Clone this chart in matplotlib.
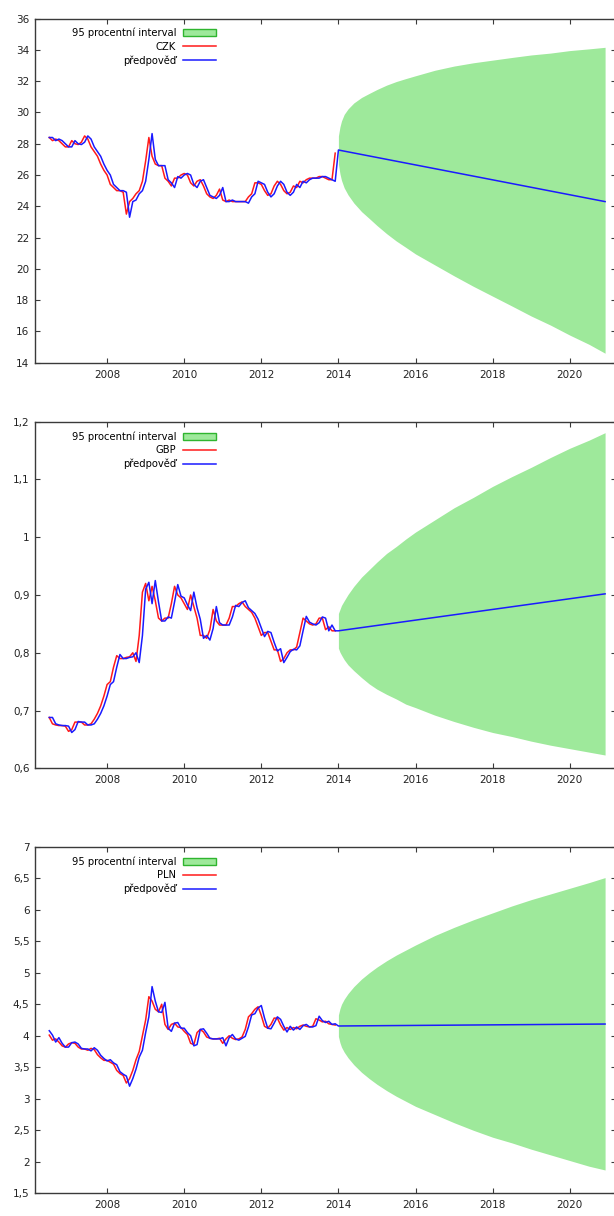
import numpy as np
import matplotlib
matplotlib.use("Agg")
import matplotlib.pyplot as plt
from matplotlib.patches import Patch
from matplotlib.lines import Line2D
from matplotlib.ticker import FuncFormatter, MultipleLocator

# ---------------------------------------------------------------------------
# Monthly exchange rates (EUR/xxx), Jul 2006 - Dec 2013
# ---------------------------------------------------------------------------
hist_start = 2006 + 6 / 12          # July 2006
n_hist = 90
hist_t = hist_start + np.arange(n_hist) / 12

czk_actual = [28.4, 28.2, 28.3, 28.2, 28.0, 27.8, 27.8, 28.2, 28.0, 27.95, 28.1, 28.5,
              28.3, 27.8, 27.5, 27.2, 26.7, 26.3,
              26.0, 25.4, 25.2, 25.0, 25.0, 24.9, 23.5, 24.3, 24.5, 24.8, 25.0, 25.6,
              26.9, 28.4, 27.2, 26.7, 26.6, 26.6, 25.8, 25.6, 25.3, 25.8, 25.8, 26.0,
              26.1, 26.0, 25.5, 25.3, 25.6, 25.7, 25.3, 24.8, 24.6, 24.5, 24.7, 25.1,
              24.4, 24.3, 24.4, 24.3, 24.3, 24.3, 24.3, 24.3, 24.6, 24.8, 25.5, 25.5,
              25.4, 25.0, 24.7, 24.8, 25.3, 25.6, 25.4, 25.0, 24.8, 24.9, 25.3, 25.2,
              25.6, 25.5, 25.7, 25.8, 25.8, 25.8, 25.9, 25.9, 25.8, 25.7, 25.7, 27.4]
czk_fitted = [28.4, 28.4, 28.2, 28.3, 28.2, 28.0, 27.8, 27.8, 28.2, 28.0, 27.95, 28.1,
              28.5, 28.3, 27.8, 27.5, 27.2, 26.7,
              26.3, 26.0, 25.4, 25.2, 25.0, 25.0, 24.9, 23.3, 24.3, 24.4, 24.8, 25.0,
              25.6, 27.0, 28.65, 27.0, 26.6, 26.6, 26.6, 25.7, 25.5, 25.2, 25.9, 25.8,
              26.0, 26.1, 26.0, 25.4, 25.2, 25.6, 25.7, 25.2, 24.7, 24.6, 24.5, 24.7,
              25.2, 24.3, 24.3, 24.4, 24.3, 24.3, 24.3, 24.3, 24.2, 24.6, 24.8, 25.6,
              25.5, 25.4, 24.9, 24.6, 24.8, 25.3, 25.6, 25.4, 24.9, 24.7, 24.9, 25.4,
              25.2, 25.6, 25.5, 25.7, 25.8, 25.8, 25.8, 25.9, 25.9, 25.8, 25.7, 25.6]

gbp_actual = [0.688, 0.677, 0.675, 0.674, 0.674, 0.673, 0.664, 0.667, 0.680, 0.680, 0.680, 0.675,
              0.675, 0.677, 0.685, 0.695, 0.708, 0.725,
              0.745, 0.750, 0.775, 0.795, 0.790, 0.790, 0.792, 0.793, 0.800, 0.785, 0.830, 0.905,
              0.920, 0.890, 0.915, 0.890, 0.860, 0.855, 0.860, 0.860, 0.885, 0.915, 0.900, 0.895,
              0.885, 0.875, 0.900, 0.880, 0.860, 0.830, 0.830, 0.825, 0.840, 0.875, 0.855, 0.848,
              0.848, 0.848, 0.860, 0.880, 0.880, 0.885, 0.888, 0.880, 0.875, 0.870, 0.860, 0.845,
              0.830, 0.835, 0.835, 0.820, 0.805, 0.805, 0.785, 0.790, 0.800, 0.805, 0.805, 0.810,
              0.835, 0.860, 0.855, 0.850, 0.848, 0.850, 0.860, 0.860, 0.840, 0.845, 0.838, 0.838]
gbp_fitted = [0.688, 0.688, 0.677, 0.675, 0.674, 0.674, 0.673, 0.662, 0.667, 0.681, 0.680, 0.680,
              0.675, 0.675, 0.677, 0.685, 0.695, 0.708,
              0.725, 0.745, 0.750, 0.775, 0.797, 0.790, 0.790, 0.792, 0.793, 0.800, 0.783, 0.830,
              0.910, 0.922, 0.885, 0.925, 0.888, 0.855, 0.855, 0.862, 0.860, 0.888, 0.918, 0.898,
              0.895, 0.883, 0.873, 0.905, 0.878, 0.858, 0.825, 0.830, 0.822, 0.842, 0.880, 0.852,
              0.848, 0.848, 0.848, 0.862, 0.882, 0.880, 0.887, 0.890, 0.878, 0.873, 0.868, 0.858,
              0.843, 0.828, 0.837, 0.835, 0.818, 0.803, 0.807, 0.783, 0.792, 0.802, 0.806, 0.805,
              0.812, 0.838, 0.863, 0.853, 0.850, 0.848, 0.852, 0.862, 0.860, 0.838, 0.848, 0.838]

pln_actual = [4.01, 3.93, 3.95, 3.90, 3.84, 3.82, 3.87, 3.89, 3.88, 3.82, 3.79, 3.79,
              3.77, 3.80, 3.78, 3.70, 3.65, 3.61,
              3.61, 3.58, 3.55, 3.45, 3.40, 3.37, 3.25, 3.32, 3.45, 3.62, 3.75, 4.00,
              4.25, 4.62, 4.55, 4.42, 4.38, 4.50, 4.18, 4.10, 4.18, 4.20, 4.14, 4.13,
              4.07, 4.02, 3.88, 3.86, 4.05, 4.10, 4.06, 3.98, 3.96, 3.95, 3.95, 3.96,
              3.88, 3.95, 4.00, 3.96, 3.94, 3.95, 3.98, 4.10, 4.30, 4.35, 4.42, 4.46,
              4.32, 4.15, 4.12, 4.18, 4.28, 4.28, 4.17, 4.09, 4.13, 4.10, 4.13, 4.11,
              4.15, 4.17, 4.15, 4.14, 4.15, 4.27, 4.25, 4.22, 4.23, 4.19, 4.18, 4.17]
pln_fitted = [4.08, 4.01, 3.90, 3.97, 3.88, 3.82, 3.82, 3.89, 3.90, 3.87, 3.80, 3.79,
              3.79, 3.76, 3.81, 3.77, 3.69, 3.64,
              3.60, 3.62, 3.57, 3.54, 3.43, 3.39, 3.36, 3.20, 3.32, 3.47, 3.66, 3.77,
              4.05, 4.30, 4.78, 4.55, 4.38, 4.37, 4.53, 4.12, 4.07, 4.20, 4.21, 4.12,
              4.12, 4.05, 4.00, 3.84, 3.86, 4.10, 4.11, 4.04, 3.96, 3.95, 3.95, 3.95,
              3.97, 3.84, 3.97, 4.02, 3.95, 3.93, 3.96, 3.99, 4.14, 4.33, 4.35, 4.44,
              4.48, 4.28, 4.12, 4.11, 4.20, 4.30, 4.26, 4.15, 4.06, 4.15, 4.09, 4.14,
              4.10, 4.16, 4.18, 4.14, 4.14, 4.16, 4.31, 4.24, 4.21, 4.23, 4.18, 4.19]

# ---------------------------------------------------------------------------
# Out-of-sample forecast Jan 2014 - Dec 2020 (start and end of the trend line)
# ---------------------------------------------------------------------------
fc_t = [2014.0, 2020.917]
czk_fc = [27.6, 24.3]
gbp_fc = [0.838, 0.902]
pln_fc = [4.155, 4.186]

# 95 % interval bounds, sampled along the forecast horizon
band_t = [2014.0, 2014.04, 2014.08, 2014.15, 2014.25, 2014.4, 2014.6, 2014.8,
          2015.0, 2015.25, 2015.5, 2015.75, 2016.0, 2016.5, 2017.0, 2017.5,
          2018.0, 2018.5, 2019.0, 2019.5, 2020.0, 2020.5, 2020.917]

czk_upper = [28.50, 29.08, 29.46, 29.88, 30.23, 30.61, 30.96, 31.22,
             31.47, 31.75, 31.98, 32.17, 32.35, 32.70, 32.97, 33.18,
             33.35, 33.52, 33.68, 33.80, 33.96, 34.07, 34.17]
czk_lower = [26.70, 26.08, 25.66, 25.18, 24.73, 24.21, 23.66, 23.22,
             22.77, 22.25, 21.78, 21.37, 20.95, 20.25, 19.55, 18.88,
             18.25, 17.62, 16.98, 16.40, 15.76, 15.17, 14.60]

gbp_upper = [0.868, 0.875, 0.882, 0.890, 0.901, 0.915, 0.931, 0.944,
             0.957, 0.972, 0.984, 0.997, 1.009, 1.030, 1.051, 1.069,
             1.088, 1.105, 1.121, 1.138, 1.154, 1.168, 1.181]
gbp_lower = [0.808, 0.801, 0.796, 0.788, 0.779, 0.769, 0.757, 0.746,
             0.737, 0.728, 0.720, 0.711, 0.705, 0.692, 0.681, 0.671,
             0.662, 0.655, 0.647, 0.640, 0.634, 0.628, 0.623]

pln_upper = [4.33, 4.43, 4.50, 4.58, 4.67, 4.78, 4.90, 5.00,
             5.09, 5.19, 5.28, 5.36, 5.44, 5.59, 5.72, 5.84,
             5.95, 6.06, 6.16, 6.25, 6.34, 6.43, 6.51]
pln_lower = [3.99, 3.89, 3.82, 3.74, 3.65, 3.54, 3.42, 3.32,
             3.23, 3.13, 3.04, 2.96, 2.88, 2.75, 2.62, 2.50,
             2.39, 2.30, 2.20, 2.11, 2.02, 1.93, 1.87]

# Axis settings per currency
currencies = ["CZK", "GBP", "PLN"]
y_limits = [(14, 36), (0.6, 1.2), (1.5, 7)]
y_steps = [2, 0.1, 0.5]
x_limits = (2006.13, 2021.2)
x_ticks = [2008, 2010, 2012, 2014, 2016, 2018, 2020]

interval_label = "95 procentní interval"
forecast_label = "předpověď"

panels = [
    (czk_actual, czk_fitted, czk_fc, czk_upper, czk_lower),
    (gbp_actual, gbp_fitted, gbp_fc, gbp_upper, gbp_lower),
    (pln_actual, pln_fitted, pln_fc, pln_upper, pln_lower),
]

# ---------------------------------------------------------------------------
W, H = 614, 1216
fig = plt.figure(figsize=(W / 100, H / 100), dpi=100)
fig.patch.set_facecolor("white")

# axes boxes in pixels: (left, top, right, bottom)
boxes = [(35, 18.7, 616, 362.6), (35, 421.7, 616, 768.3), (35, 846.7, 616, 1193.3)]

green = "#9ee99b"
green_edge = "#2fb52f"
red = "#ff1a1a"
blue = "#1a1aff"
spine_col = "#3a3a3a"
text_col = "#222222"


def comma_fmt(v, _pos):
    return f"{round(v, 3):g}".replace(".", ",")


for (actual, fitted, fc, upper, lower), cur, ylim, ystep, box in zip(
        panels, currencies, y_limits, y_steps, boxes):
    l, t, r, b = box
    ax = fig.add_axes([l / W, 1 - b / H, (r - l) / W, (b - t) / H])

    ax.fill_between(band_t, lower, upper, color=green, linewidth=0, zorder=1)
    ax.plot(hist_t, actual, color=red, lw=1.1, zorder=2)
    blue_t = np.concatenate([hist_t, fc_t])
    blue_v = np.concatenate([fitted, fc])
    ax.plot(blue_t, blue_v, color=blue, lw=1.1, zorder=3)

    ax.set_xlim(*x_limits)
    ax.set_ylim(*ylim)
    ax.set_xticks(x_ticks)
    ax.yaxis.set_major_locator(MultipleLocator(ystep))
    ax.yaxis.set_major_formatter(FuncFormatter(comma_fmt))
    ax.tick_params(direction="in", length=3.5, width=0.8, top=True, right=True,
                   labelsize=7.5, colors=spine_col, labelcolor=text_col)
    ax.tick_params(axis="y", pad=4)
    ax.tick_params(axis="x", pad=5)
    for s in ax.spines.values():
        s.set_color(spine_col)
        s.set_linewidth(1.0)

    handles = [
        Patch(facecolor=green, edgecolor=green_edge, linewidth=1.0),
        Line2D([], [], color=red, lw=1.1),
        Line2D([], [], color=blue, lw=1.1),
    ]
    ax.legend(handles, [interval_label, cur, forecast_label],
              loc="upper left", bbox_to_anchor=(0.063, 0.973),
              frameon=False, markerfirst=False, fontsize=7.2,
              handlelength=3.3, handletextpad=0.7, labelspacing=0.35,
              borderpad=0, borderaxespad=0)

fig.savefig("out.png", dpi=100, facecolor="white")
